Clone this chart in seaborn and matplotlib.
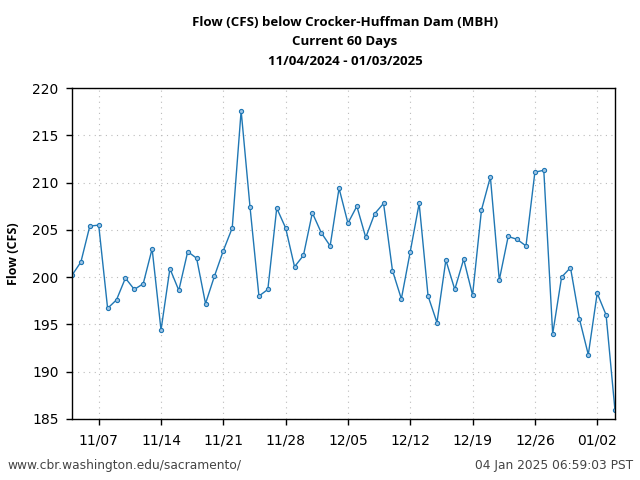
import matplotlib
matplotlib.use("Agg")
import matplotlib.pyplot as plt
import matplotlib.dates as mdates
import seaborn as sns
import pandas as pd
import numpy as np

start_date = "2024-11-04"
flow_cfs = [200.2, 201.6, 205.4, 205.5, 196.7, 197.6, 199.9, 198.7, 199.3, 203.0,
            194.4, 200.9, 198.6, 202.7, 202.0, 197.2, 200.1, 202.8, 205.2, 217.6,
            207.4, 198.0, 198.7, 207.3, 205.2, 201.1, 202.3, 206.8, 204.7, 203.3,
            209.4, 205.7, 207.5, 204.2, 206.7, 207.8, 200.7, 197.7, 202.7, 207.8,
            198.0, 195.2, 201.8, 198.7, 201.9, 198.1, 207.1, 210.6, 199.7, 204.3,
            204.0, 203.3, 211.1, 211.3, 194.0, 200.0, 201.0, 195.6, 191.8, 198.3,
            196.0, 185.9]
tick_dates = ["2024-11-07", "2024-11-14", "2024-11-21", "2024-11-28", "2024-12-05",
              "2024-12-12", "2024-12-19", "2024-12-26", "2025-01-02"]
y_ticks = [185, 190, 195, 200, 205, 210, 215, 220]
title_text = "Flow (CFS) below Crocker-Huffman Dam (MBH)\nCurrent 60 Days\n11/04/2024 - 01/03/2025"
ylabel_text = "Flow (CFS)"
left_note = "www.cbr.washington.edu/sacramento/"
right_note = "04 Jan 2025 06:59:03 PST"

dates = pd.date_range(start_date, periods=len(flow_cfs), freq="D")
df = pd.DataFrame({"date": dates, "flow": flow_cfs})

sns.set_style("ticks")
plt.rcParams["font.family"] = ["DejaVu Sans"]
plt.rcParams["text.color"] = "black"

fig = plt.figure(figsize=(6.4, 4.8), dpi=100)
ax = fig.add_axes([72/640, 1 - 419/480, (615-72)/640, (419-88)/480])

sns.lineplot(data=df, x="date", y="flow", ax=ax, color="#1f77b4", linewidth=1.0,
             marker="o", markersize=3, markerfacecolor="#9cc3e4",
             markeredgecolor="#1f77b4", markeredgewidth=0.8)

ax.set_xlim(dates[0], dates[-1])
ax.set_ylim(185, 220)
ax.set_yticks(y_ticks)
ax.set_xticks(pd.to_datetime(tick_dates))
ax.xaxis.set_major_formatter(mdates.DateFormatter("%m/%d"))
ax.grid(True, linestyle=(0, (1, 4)), color="#bbbbbb", linewidth=0.8)
for s in ax.spines.values():
    s.set_visible(True)
    s.set_color("black")
    s.set_linewidth(1.0)
ax.tick_params(axis="both", direction="out", length=4, width=1, labelsize=10, colors="black")
ax.tick_params(axis="x", pad=6.8)
ax.tick_params(axis="y", pad=5.7)
ax.set_xlabel("")
ax.set_ylabel(ylabel_text, fontsize=9, fontweight="bold", color="black",
              family=["Open Sans", "DejaVu Sans"], labelpad=9)

fig.text(345/640, 1 - 42/480, title_text, ha="center", va="center", fontsize=9.5,
         fontweight="bold", color="black", family=["Open Sans", "DejaVu Sans"], linespacing=1.65)
fig.text(7/640, 1 - 466/480, left_note, ha="left", va="center", fontsize=8.8, color="#444444")
fig.text(633/640, 1 - 466/480, right_note, ha="right", va="center", fontsize=8.8, color="#444444")

fig.savefig("out.png", dpi=100)
